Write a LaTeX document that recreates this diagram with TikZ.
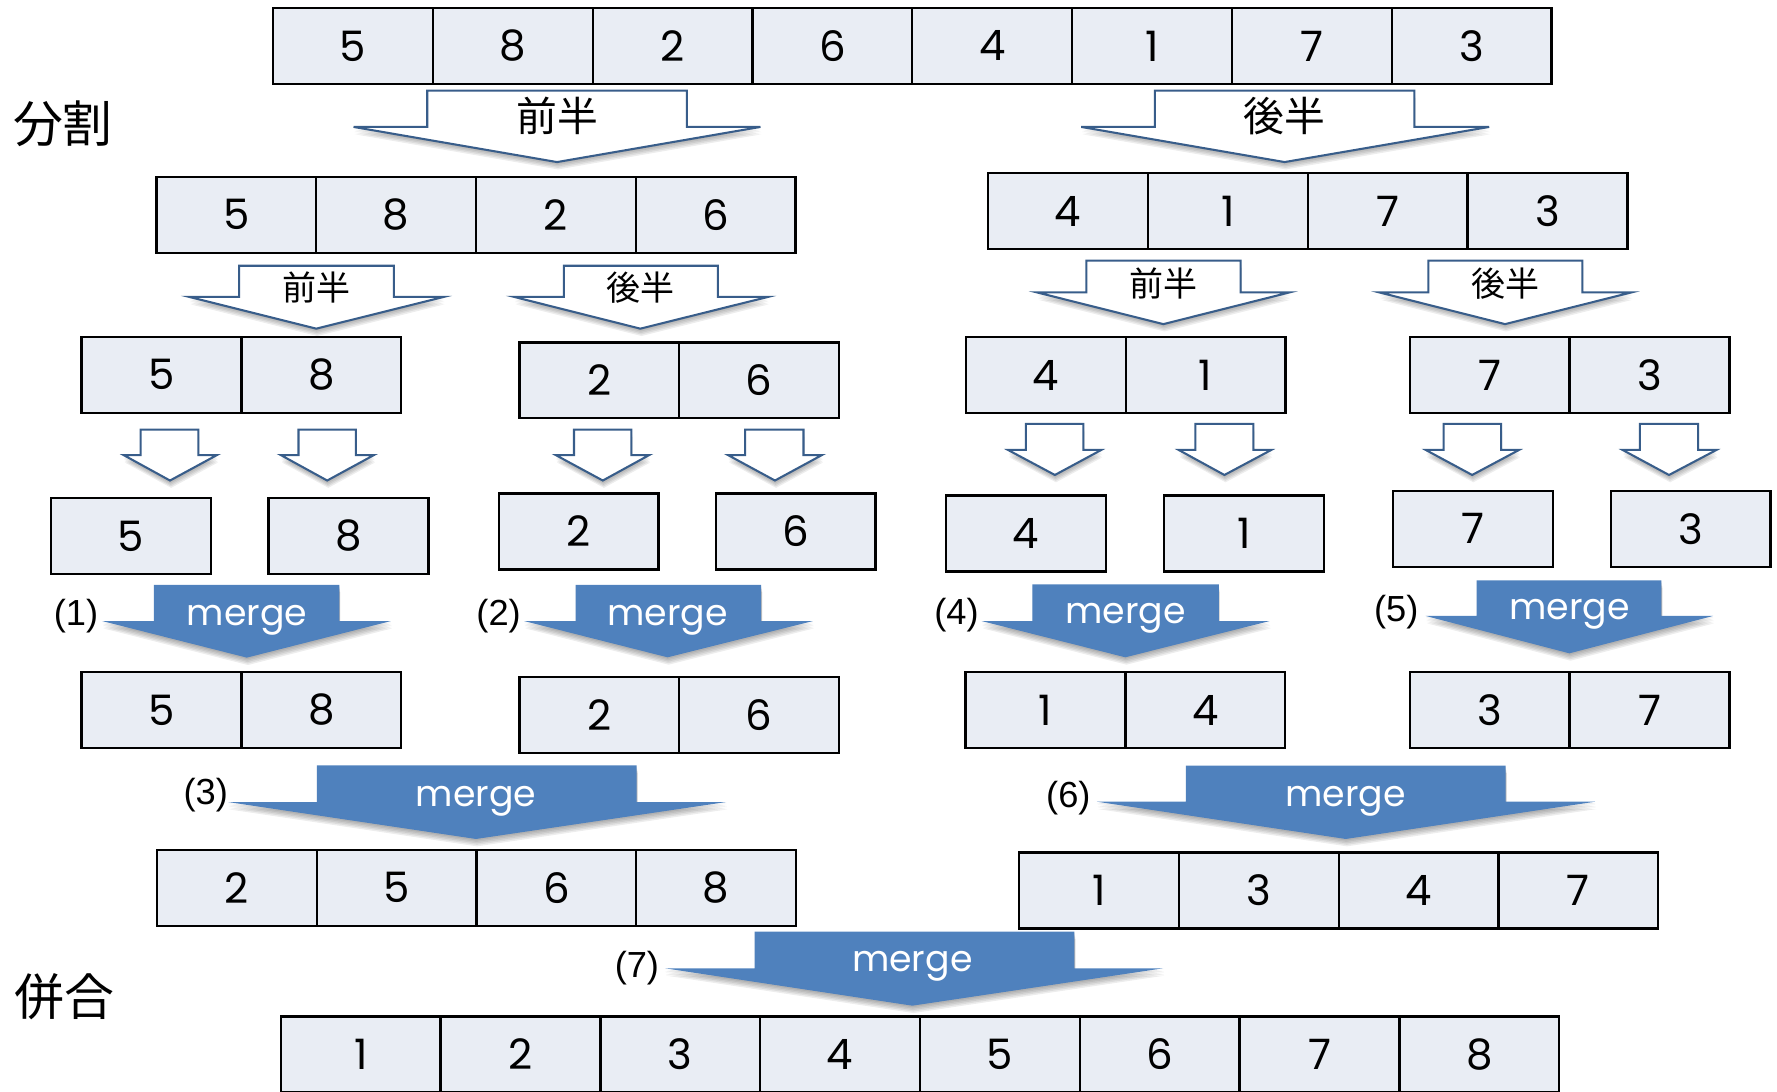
\documentclass[tikz,border=0pt]{standalone}
\usepackage{fontspec}
\newfontfamily\digitfont{Poppins}
\newfontfamily\cjkfont{Noto Sans CJK JP}
\newfontfamily\labfont{Liberation Sans}
\definecolor{cellfill}{HTML}{E9EDF4}
\definecolor{arrline}{HTML}{385D8A}
\definecolor{mergeblue}{HTML}{4F81BD}

\newcommand\cellrow[4]{%
  \foreach \v [count=\i from 0] in {#4} {
    \node[cellbox] (#1-\i) at ({#2+70.5+141*\i}, #3) {\v};
  }
}
\newcommand\blockarrow[9]{%
  \foreach \s in {1,...,5}{
    \fill[black, opacity=0.07, shift={(0.2*\s, 1.3*\s)}]
      (#2,#4) -- (#3,#4) -- (#3,#5) -- (#7,#5) -- (#8,#9) -- (#6,#5) -- (#2,#5) -- cycle;
  }
  \path[#1] (#2,#4) -- (#3,#4) -- (#3,#5) -- (#7,#5) -- (#8,#9) -- (#6,#5) -- (#2,#5) -- cycle;
}

\begin{document}
\begin{tikzpicture}[x=0.5pt,y=-0.5pt,
  cellbox/.style={draw=black, line width=1pt, fill=cellfill, minimum width=70.5pt,
    minimum height=33.5pt, inner sep=0pt, font=\digitfont\fontsize{18.5}{18.5}\selectfont},
  outarrow/.style={draw=arrline, fill=white, line width=0.9pt, line join=miter},
  mergearrow/.style={fill=mergeblue},
  mergetext/.style={text=white, font=\digitfont\fontsize{16}{16}\selectfont, anchor=base, inner sep=0pt},
  steplabel/.style={font=\labfont\fontsize{16}{16}\selectfont, inner sep=0pt},
  halflabel/.style={font=\cjkfont\fontsize{18}{18}\selectfont, inner sep=0pt},
  smallhalf/.style={font=\cjkfont\fontsize{15}{15}\selectfont, inner sep=0pt},
  sidelabel/.style={font=\cjkfont\fontsize{22}{22}\selectfont, inner sep=0pt}
]
\useasboundingbox (0,0) rectangle (1568,963);

% side labels
\node[sidelabel] (divide) at (55.5,109.6) {分割};
\node[sidelabel] (merge) at (56.7,879.5) {併合};

% rows of cells
\cellrow{r0}{241}{40.5}{5,8,2,6,4,1,7,3}
\cellrow{r1a}{138}{189.5}{5,8,2,6}
\cellrow{r1b}{872}{186.2}{4,1,7,3}
\cellrow{r2a}{72}{330.7}{5,8}
\cellrow{r2b}{458.4}{335.6}{2,6}
\cellrow{r2c}{852.3}{331}{4,1}
\cellrow{r2d}{1244}{331}{7,3}
\cellrow{s5}{45}{472.9}{5}
\cellrow{s8}{237}{472.9}{8}
\cellrow{s2}{440}{468.9}{2}
\cellrow{s6}{631.6}{468.9}{6}
\cellrow{s4}{834.6}{470.8}{4}
\cellrow{s1}{1027}{470.8}{1}
\cellrow{s7}{1229.4}{466.5}{7}
\cellrow{s3}{1421.3}{466.5}{3}
\cellrow{m1}{72}{626.5}{5,8}
\cellrow{m2}{458.4}{630.9}{2,6}
\cellrow{m4}{852}{626.7}{1,4}
\cellrow{m5}{1244}{626.7}{3,7}
\cellrow{m3}{138.4}{783.3}{2,5,6,8}
\cellrow{m6}{899.2}{785.8}{1,3,4,7}
\cellrow{m7}{247.8}{930.5}{1,2,3,4,5,6,7,8}

% level 1 split arrows
\blockarrow{outarrow}{377}{606}{80}{112}{312}{671}{491.5}{143}
\node[halflabel] (h1) at (491.5,102.5) {前半};
\blockarrow{outarrow}{1019}{1248}{80}{112}{954}{1314}{1133.5}{143}
\node[halflabel] (h2) at (1133.5,102.5) {後半};

% level 2 split arrows
\blockarrow{outarrow}{211}{347.5}{234.5}{262}{167}{391.5}{279}{290}
\node[smallhalf] (h3) at (279,254) {前半};
\blockarrow{outarrow}{497.5}{633.5}{234.5}{262}{453.7}{677.6}{565}{290}
\node[smallhalf] (h4) at (565,254) {後半};
\blockarrow{outarrow}{958.5}{1094.7}{230}{258}{915}{1138}{1026.5}{286}
\node[smallhalf] (h5) at (1026.5,250) {前半};
\blockarrow{outarrow}{1260.4}{1396.2}{230}{258}{1217}{1439.6}{1328}{286}
\node[smallhalf] (h6) at (1328,250) {後半};

% level 3 split arrows
\blockarrow{outarrow}{124}{175}{379}{401.5}{109}{191.5}{150}{424}
\blockarrow{outarrow}{263.4}{314}{379}{401.5}{247.7}{330}{288.7}{424}
\blockarrow{outarrow}{506.5}{557.2}{379}{401.5}{490.3}{572.9}{531.9}{424}
\blockarrow{outarrow}{657.5}{709}{379}{401.5}{642.3}{725.3}{683.8}{424}
\blockarrow{outarrow}{905.2}{956}{374.1}{397}{889.4}{971.8}{930.8}{419.1}
\blockarrow{outarrow}{1054.7}{1106}{374.1}{397}{1040}{1121.8}{1080.4}{419.1}
\blockarrow{outarrow}{1273.8}{1324.6}{374.1}{397}{1258}{1340.4}{1299}{419.1}
\blockarrow{outarrow}{1447}{1498.3}{374.1}{397}{1431.7}{1514.6}{1472.7}{419.1}

% merge arrows
\blockarrow{mergearrow}{135.7}{299.4}{516}{548}{90.2}{345}{217.8}{580.3}
\node[mergetext] (g1) at (217.8,551.5) {merge};
\node[steplabel] (l1) at (67,544) {(1)};

\blockarrow{mergearrow}{508}{671.7}{516}{548}{462.5}{717.3}{589}{580}
\node[mergetext] (g2) at (589,551.5) {merge};
\node[steplabel] (l2) at (440,544) {(2)};

\blockarrow{mergearrow}{911}{1075.4}{515.6}{548}{866.2}{1120.3}{993}{580}
\node[mergetext] (g4) at (993,550.5) {merge};
\node[steplabel] (l4) at (844,542.7) {(4)};

\blockarrow{mergearrow}{1303}{1466}{512}{543.5}{1258}{1511.6}{1384.8}{576.5}
\node[mergetext] (g5) at (1384.8,547) {merge};
\node[steplabel] (l5) at (1232,539.7) {(5)};

\blockarrow{mergearrow}{279.5}{561.8}{675.3}{707.7}{201.2}{640.8}{420}{740.3}
\node[mergetext] (g3) at (420,711.5) {merge};
\node[steplabel] (l3) at (181.5,701.5) {(3)};

\blockarrow{mergearrow}{1046.3}{1328.6}{675.6}{707.4}{967.9}{1407.6}{1187.5}{740.3}
\node[mergetext] (g6) at (1187.5,711.8) {merge};
\node[steplabel] (l6) at (942.7,704.4) {(6)};

\blockarrow{mergearrow}{665.8}{948}{822}{854.4}{586.8}{1026.4}{805}{887.4}
\node[mergetext] (g7) at (805,857.4) {merge};
\node[steplabel] (l7) at (562,854.4) {(7)};
\end{tikzpicture}
\end{document}
